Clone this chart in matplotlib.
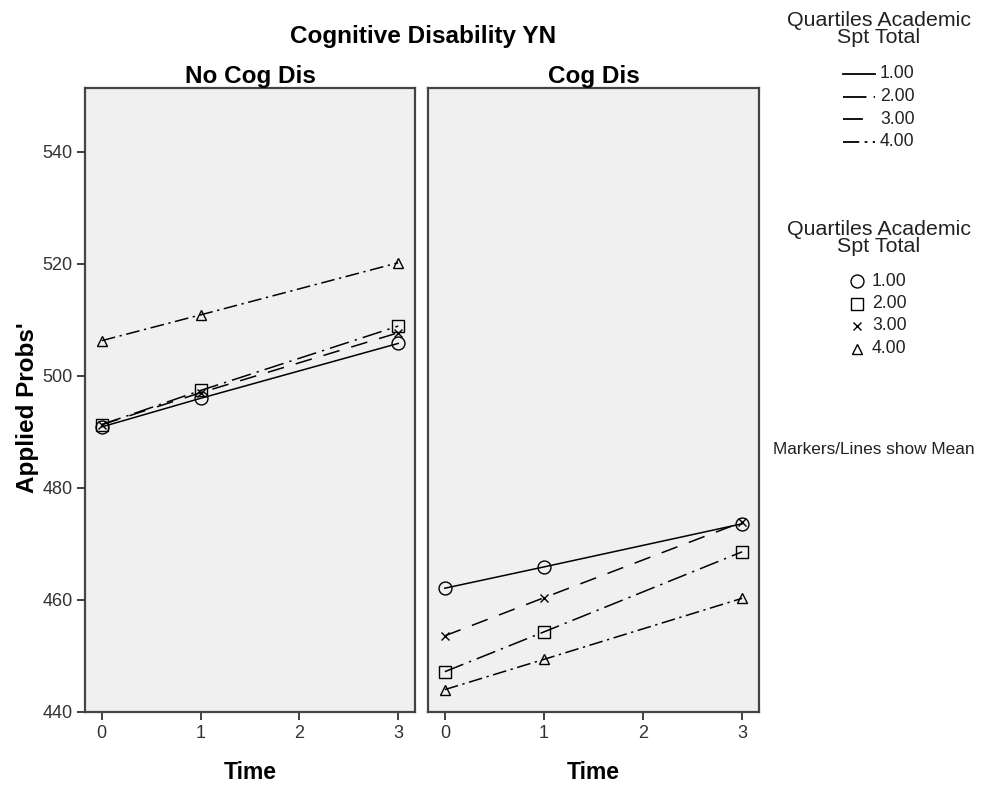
import matplotlib
matplotlib.use("Agg")
import matplotlib.pyplot as plt
from matplotlib.lines import Line2D

plt.rcParams['font.family'] = ['Liberation Sans', 'DejaVu Sans']

times = [0, 1, 3]
quartiles = ["1.00", "2.00", "3.00", "4.00"]
panels = ["No Cog Dis", "Cog Dis"]

# Means: panel -> quartile -> values at times 0,1,3
no_cog = {
    "1.00": [490.9, 496.0, 505.8],
    "2.00": [491.3, 497.4, 508.9],
    "3.00": [491.3, 497.0, 507.7],
    "4.00": [506.3, 510.9, 520.2],
}
cog = {
    "1.00": [462.1, 465.9, 473.6],
    "2.00": [447.2, 454.3, 468.6],
    "3.00": [453.6, 460.4, 473.9],
    "4.00": [444.0, 449.4, 460.3],
}
panel_data = [no_cog, cog]

y_ticks = [440, 460, 480, 500, 520, 540]
x_ticks = [0, 1, 2, 3]

linestyles = {
    "1.00": "-",
    "2.00": (0, (13, 4, 1.5, 4)),
    "3.00": (0, (11, 8)),
    "4.00": (0, (9, 3, 1.5, 3)),
}
markers = {"1.00": "o", "2.00": "s", "3.00": "x", "4.00": "^"}
msizes = {"1.00": 9.3, "2.00": 9.0, "3.00": 6, "4.00": 7.5}

W, H = 987, 787
fig = plt.figure(figsize=(W / 100, H / 100), dpi=100)

def ax_rect(x0, x1, y0, y1):
    return [x0 / W, 1 - y1 / H, (x1 - x0) / W, (y1 - y0) / H]

axes = [fig.add_axes(ax_rect(85, 415, 88, 712)),
        fig.add_axes(ax_rect(428, 759, 88, 712))]

frame_col = "#444444"
txt_col = "#222222"
for ax, data, title in zip(axes, panel_data, panels):
    ax.set_facecolor("#F0F0F0")
    for q in quartiles:
        ax.plot(times, data[q], color="black", lw=1.1, linestyle=linestyles[q],
                marker=markers[q], markersize=msizes[q], markerfacecolor="none",
                markeredgecolor="black", markeredgewidth=1.0)
    ax.set_xlim(-0.17, 3.17)
    ax.set_ylim(440, 551.4)
    ax.set_xticks(x_ticks)
    ax.set_xticklabels([str(t) for t in x_ticks])
    for s in ax.spines.values():
        s.set_color(frame_col)
        s.set_linewidth(1.6)
    ax.tick_params(axis='both', direction='out', length=6, width=1.3,
                   color="#333333", labelsize=13, labelcolor="#333333", pad=3)
    ax.set_title(title, fontsize=17.5, fontweight='bold', pad=3)
    ax.set_xlabel("Time", fontsize=16.5, fontweight='bold', labelpad=14)

axes[0].set_yticks(y_ticks)
axes[0].set_yticklabels([str(v) for v in y_ticks])
axes[1].set_yticks([])
axes[1].tick_params(axis='y', length=0)

fig.text(28 / W, 1 - 408 / H, "Applied Probs'", rotation=90, ha='center', va='center',
         fontsize=17.5, fontweight='bold')
fig.text(423 / W, 1 - 36 / H, "Cognitive Disability YN", ha='center', va='center',
         fontsize=17.5, fontweight='bold')

# Legends drawn in a pixel-coordinate overlay
lax = fig.add_axes([0, 0, 1, 1])
lax.set_xlim(0, W)
lax.set_ylim(H, 0)
lax.axis('off')
lax.patch.set_alpha(0)

lax.text(879, 29, "Quartiles Academic\nSpt Total", ha='center', va='center',
         fontsize=15.4, color=txt_col, linespacing=0.9)
for i, q in enumerate(quartiles):
    y = 74 + i * 22.5
    lax.add_line(Line2D([843, 875], [y, y], color="black", lw=1.3,
                        linestyle=linestyles[q]))
    lax.text(880, y, q, ha='left', va='center', fontsize=12.7, color=txt_col)

lax.text(879, 238, "Quartiles Academic\nSpt Total", ha='center', va='center',
         fontsize=15.4, color=txt_col, linespacing=0.9)
for i, q in enumerate(quartiles):
    y = 281 + i * 22.5
    lax.plot([857], [y], marker=markers[q], markersize=msizes[q],
             markerfacecolor='none', markeredgecolor='black', markeredgewidth=1.0,
             linestyle='none')
    lax.text(872, y, q, ha='left', va='center', fontsize=12.7, color=txt_col)

lax.text(773, 450, "Markers/Lines show Mean", ha='left', va='center',
         fontsize=12.4, color=txt_col)

fig.savefig("out.png", dpi=100)
